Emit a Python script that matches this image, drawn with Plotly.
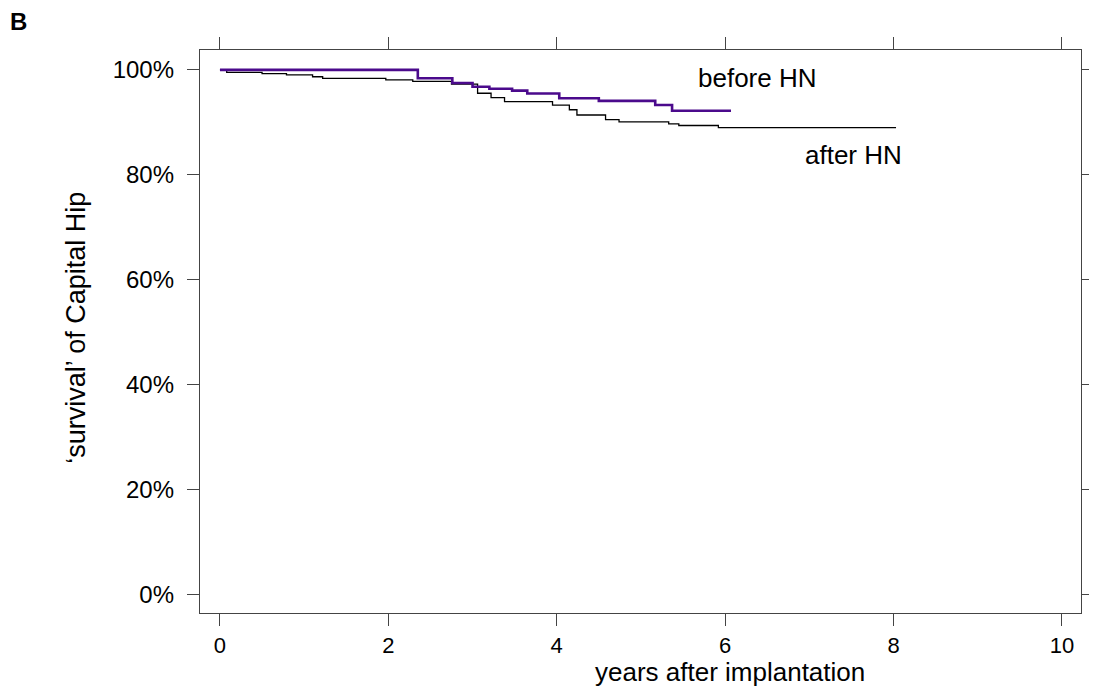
import plotly.graph_objects as go

# Kaplan-Meier style survival estimates (years, % survival)
before_t = [0, 2.35, 2.76, 3.0, 3.2, 3.47, 3.65, 4.03, 4.5, 5.17, 5.37, 6.07]
before_s = [100, 98.4, 97.5, 96.8, 96.4, 96.05, 95.5, 94.6, 94.1, 93.3, 92.2, 92.2]

after_t = [0, 0.08, 0.5, 0.79, 1.1, 1.22, 1.97, 2.29, 2.75, 3.06, 3.22, 3.38,
           3.95, 4.15, 4.24, 4.58, 4.74, 5.33, 5.45, 5.92, 8.03]
after_s = [100, 99.55, 99.3, 99.05, 98.7, 98.4, 98.1, 97.8, 97.3, 95.55, 94.7, 93.95,
           93.3, 92.4, 91.4, 90.5, 90.1, 89.7, 89.4, 89.0, 89.0]

x_ticks = [0, 2, 4, 6, 8, 10]
y_ticks = [0, 20, 40, 60, 80, 100]
y_tick_labels = ["0%", "20%", "40%", "60%", "80%", "100%"]

FONT = "Liberation Sans, Arial, sans-serif"

fig = go.Figure()
fig.add_trace(go.Scatter(x=after_t, y=after_s, mode="lines", line_shape="hv",
                         line=dict(color="#000000", width=1.3), name="after HN"))
fig.add_trace(go.Scatter(x=before_t, y=before_s, mode="lines", line_shape="hv",
                         line=dict(color="#4b0a8c", width=2.6), name="before HN"))

axis_common = dict(showline=True, linecolor="#444444", linewidth=1.3, mirror="ticks",
                   ticks="outside", ticklen=12, tickcolor="#444444", tickwidth=1.3,
                   showgrid=False, zeroline=False)

fig.update_xaxes(range=[-0.237, 10.227], tickvals=x_ticks, ticklabelstandoff=0,
                 tickfont=dict(family=FONT, size=22, color="#000000"), **axis_common)
fig.update_yaxes(range=[-3.6, 103.8], tickvals=y_ticks, ticktext=y_tick_labels,
                 ticklabelstandoff=8,
                 tickfont=dict(family=FONT, size=24, color="#000000"), **axis_common)

ann_font = dict(family=FONT, size=26, color="#000000")
title_font = dict(family=FONT, size=26, color="#000000")
fig.add_annotation(x=6.39, y=98.5, xref="x", yref="y", text="before HN",
                   showarrow=False, font=ann_font)
fig.add_annotation(x=7.52, y=83.8, xref="x", yref="y", text="after HN",
                   showarrow=False, font=ann_font)
fig.add_annotation(x=0.602, y=-0.105, xref="paper", yref="paper",
                   text="years after implantation", xanchor="center", yanchor="middle",
                   showarrow=False, font=title_font)
fig.add_annotation(x=-0.1416, y=0.507, xref="paper", yref="paper",
                   text="‘survival’ of Capital Hip", textangle=-90,
                   xanchor="center", yanchor="middle",
                   showarrow=False, font=dict(family=FONT, size=27, color="#000000"))
fig.add_annotation(x=-0.2174, y=1.078, xref="paper", yref="paper", text="<b>B</b>",
                   xanchor="left", yanchor="top", showarrow=False,
                   font=dict(family=FONT, size=24, color="#000000"))

fig.update_layout(width=1097, height=692, showlegend=False,
                  paper_bgcolor="white", plot_bgcolor="white",
                  margin=dict(l=192, r=11, t=42, b=87))

fig.write_html("out.html")
